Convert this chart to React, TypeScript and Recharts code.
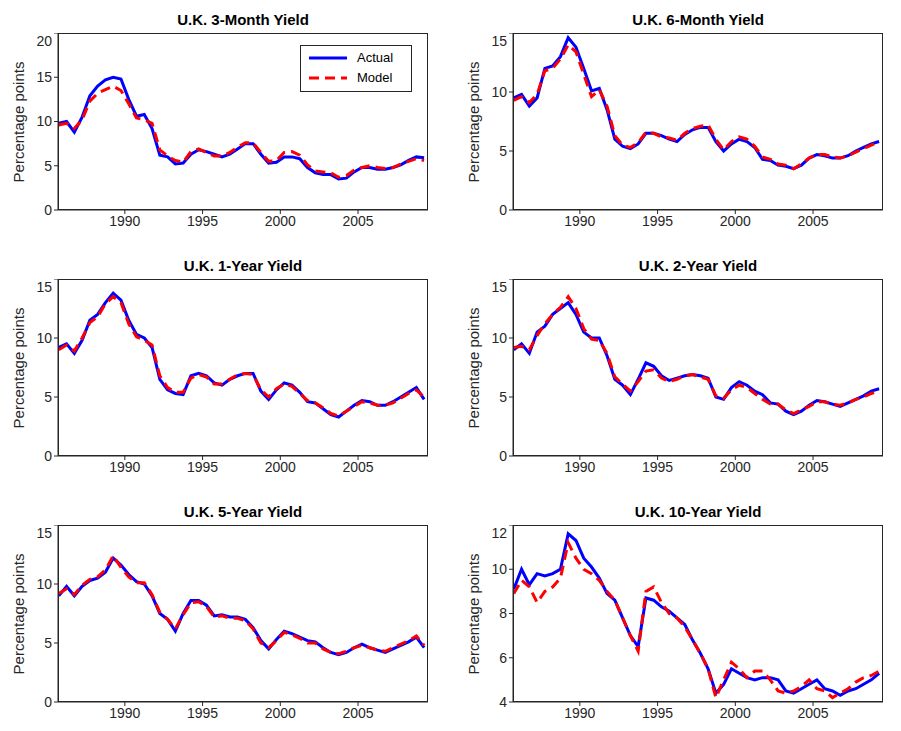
import { LineChart, Line, XAxis, YAxis } from 'recharts';

const TIMES = Array.from({ length: 48 }, (_, i) => 1985.75 + i * 0.5);
const X_TICKS = [1990, 1995, 2000, 2005];

const M3_ACTUAL = [9.8, 10, 8.8, 10.5, 12.9, 14, 14.7, 15, 14.8, 12.5, 10.6, 10.8, 9.2, 6.2, 6, 5.2, 5.3, 6.3, 6.8, 6.6, 6.3, 6, 6.3, 6.9, 7.5, 7.5, 6.3, 5.3, 5.4, 6, 6, 5.8, 4.8, 4.2, 4, 4, 3.5, 3.6, 4.3, 4.8, 4.8, 4.6, 4.6, 4.8, 5.1, 5.6, 6, 5.9];
const M3_MODEL = [9.6, 9.8, 9.2, 10.2, 12.3, 13.2, 13.6, 14, 13.5, 12, 10.4, 10.2, 9.8, 6.8, 6.1, 5.6, 5.4, 6.6, 6.9, 6.5, 6.1, 6.1, 6.5, 7.1, 7.6, 7.6, 6.5, 5.5, 5.6, 6.5, 6.6, 6.2, 5.1, 4.4, 4.3, 4.2, 3.7, 3.9, 4.5, 4.8, 5, 4.8, 4.7, 4.8, 5.2, 5.5, 5.8, 5.6];
const M6_ACTUAL = [9.5, 9.8, 8.8, 9.5, 12, 12.2, 13, 14.6, 13.8, 12, 10.1, 10.3, 8.5, 6, 5.4, 5.2, 5.6, 6.5, 6.5, 6.3, 6, 5.8, 6.4, 6.8, 7, 7, 5.8, 5, 5.6, 6, 5.8, 5.3, 4.3, 4.2, 3.8, 3.7, 3.5, 3.8, 4.4, 4.7, 4.6, 4.4, 4.4, 4.6, 5, 5.3, 5.6, 5.8];
const M6_MODEL = [9.3, 9.6, 9.1, 9.8, 11.8, 12, 12.8, 14, 13.4, 11.5, 9.6, 10.2, 8.8, 6.3, 5.5, 5.3, 5.7, 6.6, 6.5, 6.2, 6.1, 5.9, 6.5, 6.9, 7.1, 7.2, 6, 5.1, 5.8, 6.2, 6, 5.4, 4.5, 4.3, 3.9, 3.8, 3.5, 3.9, 4.4, 4.7, 4.7, 4.5, 4.4, 4.6, 4.9, 5.2, 5.5, 5.8];
const Y1_ACTUAL = [9.2, 9.5, 8.7, 9.8, 11.5, 12, 13, 13.8, 13.2, 11.5, 10.3, 10, 9.2, 6.5, 5.6, 5.3, 5.2, 6.8, 7, 6.8, 6.2, 6, 6.5, 6.8, 7, 7, 5.5, 4.8, 5.6, 6.2, 6, 5.4, 4.6, 4.5, 4, 3.5, 3.3, 3.8, 4.3, 4.7, 4.6, 4.3, 4.3, 4.6, 5, 5.4, 5.8, 4.8];
const Y1_MODEL = [9, 9.4, 8.9, 10, 11.3, 11.8, 12.9, 13.5, 13, 11.2, 10.1, 9.8, 9.4, 6.8, 5.8, 5.4, 5.4, 6.6, 6.9, 6.7, 6.1, 6.1, 6.5, 6.9, 7, 6.9, 5.6, 5, 5.7, 6.1, 5.9, 5.3, 4.7, 4.5, 4.1, 3.6, 3.4, 3.8, 4.2, 4.6, 4.5, 4.3, 4.3, 4.5, 4.9, 5.3, 5.6, 5];
const Y2_ACTUAL = [9, 9.5, 8.7, 10.5, 11, 12, 12.5, 13, 12, 10.5, 10, 10, 8.5, 6.5, 6, 5.2, 6.5, 7.9, 7.6, 6.8, 6.4, 6.6, 6.8, 6.9, 6.8, 6.6, 5, 4.8, 5.8, 6.3, 6, 5.5, 5.2, 4.5, 4.4, 3.8, 3.5, 3.8, 4.3, 4.7, 4.6, 4.4, 4.2, 4.5, 4.8, 5.1, 5.5, 5.7];
const Y2_MODEL = [9.2, 9.3, 9, 10.2, 11.2, 12, 12.6, 13.5, 12.5, 10.8, 9.9, 9.8, 8.7, 6.7, 6.1, 5.5, 6.3, 7.2, 7.3, 6.6, 6.3, 6.5, 6.8, 6.9, 6.7, 6.5, 5.1, 4.9, 5.6, 6, 5.8, 5.3, 4.8, 4.4, 4.4, 3.9, 3.6, 3.9, 4.2, 4.6, 4.6, 4.4, 4.3, 4.5, 4.8, 5, 5.3, 5.5];
const Y5_ACTUAL = [9, 9.8, 9, 9.8, 10.3, 10.5, 11, 12.2, 11.6, 10.8, 10.2, 10, 9, 7.5, 7, 6, 7.5, 8.6, 8.6, 8.2, 7.3, 7.4, 7.2, 7.2, 7, 6.3, 5.2, 4.5, 5.3, 6, 5.8, 5.5, 5.2, 5.1, 4.6, 4.2, 4, 4.2, 4.6, 4.9, 4.6, 4.4, 4.2, 4.5, 4.8, 5.1, 5.5, 4.6];
const Y5_MODEL = [9.2, 9.6, 9.1, 9.9, 10.4, 10.6, 11.2, 12.4, 11.4, 10.6, 10.1, 10.1, 9.1, 7.6, 7, 6.2, 7.4, 8.4, 8.5, 8.1, 7.2, 7.3, 7.1, 7.1, 6.9, 6.2, 5, 4.6, 5.2, 5.9, 5.7, 5.4, 5, 5, 4.5, 4.2, 4.1, 4.3, 4.6, 4.8, 4.6, 4.4, 4.3, 4.6, 4.9, 5.2, 5.6, 4.8];
const Y10_ACTUAL = [9.1, 10, 9.3, 9.8, 9.7, 9.8, 10, 11.6, 11.3, 10.5, 10.1, 9.6, 8.9, 8.6, 7.8, 7, 6.5, 8.7, 8.6, 8.3, 8.1, 7.8, 7.5, 6.8, 6.2, 5.5, 4.4, 4.8, 5.5, 5.3, 5.1, 5, 5.1, 5.1, 5, 4.5, 4.4, 4.6, 4.8, 5, 4.6, 4.5, 4.3, 4.5, 4.6, 4.8, 5, 5.3];
const Y10_MODEL = [8.9, 9.5, 9.2, 8.5, 9, 9.2, 9.6, 11.2, 10.5, 10, 9.8, 9.5, 9, 8.6, 7.8, 7, 6.3, 9, 9.2, 8.5, 8, 7.8, 7.4, 6.8, 6.2, 5.5, 4.2, 5, 5.8, 5.5, 5.1, 5.4, 5.4, 5, 4.5, 4.4, 4.5, 4.7, 5, 4.6, 4.5, 4.2, 4.4, 4.6, 4.9, 5.1, 5.2, 5.4];

const FONT = 'Helvetica, Arial, "Liberation Sans", sans-serif';
const AXIS = '#262626';

type PanelProps = {
  title: string;
  actual: number[];
  model: number[];
  yDomain: [number, number];
  yTicks: number[];
  left: number;
  top: number;
  legend?: boolean;
};

const PLOT_W = 370;
const PLOT_H = 177;

function Panel({ title, actual, model, yDomain, yTicks, left, top, legend }: PanelProps) {
  const data = TIMES.map((t, i) => ({ t, actual: actual[i], model: model[i] }));
  return (
    <div style={{ position: 'absolute', left, top, width: 450, height: 240 }}>
      <div style={{ position: 'absolute', left: 58, width: PLOT_W, top: -22, textAlign: 'center', fontWeight: 'bold', fontSize: 15, color: '#000' }}>
        {title}
      </div>
      <div style={{ position: 'absolute', left: 18, top: PLOT_H / 2, transform: 'translate(-50%, -50%) rotate(-90deg)', fontSize: 15, whiteSpace: 'nowrap', color: AXIS }}>
        Percentage points
      </div>
      <LineChart width={450} height={PLOT_H + 30} data={data} margin={{ top: 0, right: 22, bottom: 0, left: 0 }}>
        <XAxis dataKey="t" type="number" domain={[1985.7, 2009.5]} ticks={X_TICKS} allowDataOverflow stroke={AXIS} tick={{ fill: AXIS, fontSize: 14 }} tickSize={4} height={30} />
        <YAxis type="number" domain={yDomain} ticks={yTicks} allowDataOverflow stroke={AXIS} tick={{ fill: AXIS, fontSize: 14 }} tickSize={4} width={58} />
        <Line dataKey="actual" stroke="#0000ff" strokeWidth={3} dot={false} isAnimationActive={false} />
        <Line dataKey="model" stroke="#ff0000" strokeWidth={3} strokeDasharray="10 6" dot={false} isAnimationActive={false} />
      </LineChart>
      <div style={{ position: 'absolute', left: 58, top: 0, width: PLOT_W, height: PLOT_H, border: `1px solid ${AXIS}`, boxSizing: 'border-box', pointerEvents: 'none' }} />
      {legend && (
        <div style={{ position: 'absolute', left: 300, top: 12, width: 112, height: 47, border: `1px solid ${AXIS}`, background: '#fff', fontSize: 13, boxSizing: 'border-box' }}>
          {[['Actual', '#0000ff', ''], ['Model', '#ff0000', '10 6']].map(([name, color, dash], k) => (
            <div key={name} style={{ position: 'absolute', top: 4 + k * 20, left: 6, display: 'flex', alignItems: 'center' }}>
              <svg width={42} height={14}><line x1={2} y1={7} x2={40} y2={7} stroke={color} strokeWidth={3} strokeDasharray={dash || undefined} /></svg>
              <span style={{ marginLeft: 8 }}>{name}</span>
            </div>
          ))}
        </div>
      )}
    </div>
  );
}

export default function App() {
  return (
    <div style={{ position: 'absolute', left: 0, top: 0, width: 901, height: 731, background: '#fff', fontFamily: FONT }}>
      <Panel title="U.K. 3-Month Yield" actual={M3_ACTUAL} model={M3_MODEL} yDomain={[0, 20]} yTicks={[0, 5, 10, 15, 20]} left={0} top={33} legend />
      <Panel title="U.K. 6-Month Yield" actual={M6_ACTUAL} model={M6_MODEL} yDomain={[0, 15]} yTicks={[0, 5, 10, 15]} left={455} top={33} />
      <Panel title="U.K. 1-Year Yield" actual={Y1_ACTUAL} model={Y1_MODEL} yDomain={[0, 15]} yTicks={[0, 5, 10, 15]} left={0} top={279} />
      <Panel title="U.K. 2-Year Yield" actual={Y2_ACTUAL} model={Y2_MODEL} yDomain={[0, 15]} yTicks={[0, 5, 10, 15]} left={455} top={279} />
      <Panel title="U.K. 5-Year Yield" actual={Y5_ACTUAL} model={Y5_MODEL} yDomain={[0, 15]} yTicks={[0, 5, 10, 15]} left={0} top={525} />
      <Panel title="U.K. 10-Year Yield" actual={Y10_ACTUAL} model={Y10_MODEL} yDomain={[4, 12]} yTicks={[4, 6, 8, 10, 12]} left={455} top={525} />
    </div>
  );
}
